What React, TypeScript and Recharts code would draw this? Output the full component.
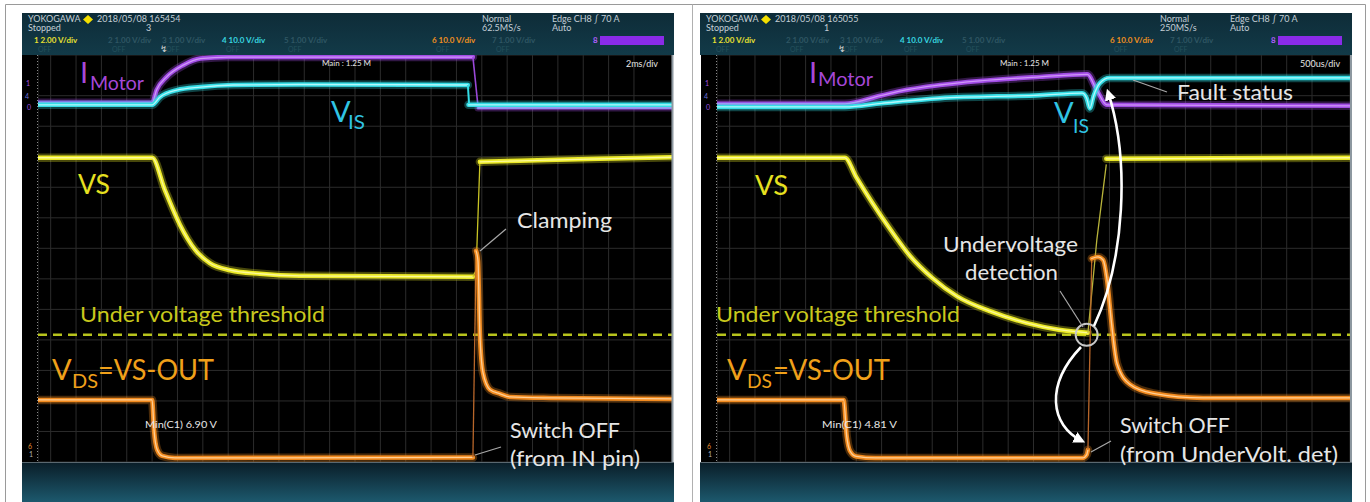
import React from "react";
import { LineChart, Line, XAxis, YAxis, CartesianGrid, ReferenceLine, ReferenceDot } from "recharts";

type Pt = { t: number; v: number };

const FONT = "Lato, 'Open Sans', sans-serif";
const PLOT_TOP = 55;
const PLOT_H = 407;
const THRESHOLD = 2.5; // under voltage threshold, in divisions

// graticule: 10 x 8 divisions, 5 minor steps each
const gridT = Array.from({ length: 51 }, (_, i) => +(i * 0.2).toFixed(1));
const gridV = Array.from({ length: 41 }, (_, i) => +(i * 0.2).toFixed(1));

// ---- left capture (2ms/div): switch off from IN pin
const motorOnL: Pt[] = [
  { t: 0, v: 7.06 }, { t: 1.8, v: 7.06 }, { t: 1.87, v: 7.31 }, { t: 2.03, v: 7.57 },
  { t: 2.29, v: 7.8 }, { t: 2.56, v: 7.93 }, { t: 3.0, v: 7.96 }, { t: 6.86, v: 7.96 },
];
const motorEdgeL: Pt[] = [{ t: 6.86, v: 7.96 }, { t: 6.94, v: 6.99 }];
const motorOffL: Pt[] = [{ t: 6.94, v: 6.96 }, { t: 10, v: 6.96 }];

const visOnL: Pt[] = [
  { t: 0, v: 7.02 }, { t: 1.8, v: 7.02 }, { t: 1.92, v: 7.17 }, { t: 2.19, v: 7.31 },
  { t: 2.56, v: 7.37 }, { t: 3.08, v: 7.41 }, { t: 4.13, v: 7.42 }, { t: 6.78, v: 7.41 },
];
const visEdgeL: Pt[] = [{ t: 6.78, v: 7.41 }, { t: 6.8, v: 7.02 }];
const visOffL: Pt[] = [{ t: 6.79, v: 7.02 }, { t: 10, v: 7.02 }];

const vsOnL: Pt[] = [
  { t: 0, v: 5.98 }, { t: 1.8, v: 5.98 }, { t: 2.0, v: 5.35 }, { t: 2.24, v: 4.66 },
  { t: 2.48, v: 4.17 }, { t: 2.71, v: 3.91 }, { t: 3.03, v: 3.77 }, { t: 3.5, v: 3.7 },
  { t: 4.13, v: 3.66 }, { t: 6.86, v: 3.64 },
];
const vsEdgeL: Pt[] = [{ t: 6.86, v: 3.64 }, { t: 6.91, v: 3.77 }, { t: 6.97, v: 5.9 }];
const vsOffL: Pt[] = [{ t: 6.97, v: 5.9 }, { t: 7.6, v: 5.92 }, { t: 8.86, v: 5.96 }, { t: 10, v: 5.99 }];

const vdsOnL: Pt[] = [
  { t: 0, v: 1.22 }, { t: 1.8, v: 1.22 }, { t: 1.83, v: 0.63 }, { t: 1.88, v: 0.24 },
  { t: 1.96, v: 0.12 }, { t: 2.16, v: 0.08 }, { t: 6.86, v: 0.09 },
];
const vdsEdgeL: Pt[] = [{ t: 6.86, v: 0.09 }, { t: 6.91, v: 4.15 }];
const vdsOffL: Pt[] = [
  { t: 6.91, v: 4.15 }, { t: 6.94, v: 3.95 }, { t: 6.97, v: 2.52 }, { t: 7.02, v: 1.75 },
  { t: 7.13, v: 1.42 }, { t: 7.29, v: 1.34 }, { t: 7.44, v: 1.28 }, { t: 8.08, v: 1.26 },
  { t: 10, v: 1.24 },
];

// ---- right capture (500us/div): switch off from under voltage detection
const motorR: Pt[] = [
  { t: 0, v: 7.04 }, { t: 2.02, v: 7.04 }, { t: 2.58, v: 7.2 }, { t: 2.89, v: 7.29 },
  { t: 3.52, v: 7.41 }, { t: 4.15, v: 7.49 }, { t: 5.1, v: 7.57 }, { t: 5.85, v: 7.62 },
  { t: 6.0, v: 7.31 }, { t: 6.16, v: 7.02 }, { t: 10, v: 7.0 },
];
const visR: Pt[] = [
  { t: 0, v: 6.98 }, { t: 2.02, v: 6.98 }, { t: 2.6, v: 7.05 }, { t: 3.52, v: 7.15 },
  { t: 5.1, v: 7.21 }, { t: 5.77, v: 7.25 }, { t: 5.84, v: 7.15 }, { t: 5.89, v: 6.95 },
  { t: 5.95, v: 7.2 }, { t: 6.05, v: 7.45 }, { t: 6.2, v: 7.55 }, { t: 10, v: 7.55 },
];
const vsOnR: Pt[] = [
  { t: 0, v: 5.98 }, { t: 2.02, v: 5.98 }, { t: 2.2, v: 5.6 }, { t: 2.45, v: 5.1 },
  { t: 2.75, v: 4.55 }, { t: 3.05, v: 4.05 }, { t: 3.4, v: 3.62 }, { t: 3.8, v: 3.25 },
  { t: 4.3, v: 2.97 }, { t: 4.9, v: 2.73 }, { t: 5.4, v: 2.6 }, { t: 5.86, v: 2.54 },
];
const vsEdgeR: Pt[] = [{ t: 5.86, v: 2.54 }, { t: 6.0, v: 4.36 }, { t: 6.15, v: 5.85 }];
const vsOffR: Pt[] = [{ t: 6.15, v: 5.96 }, { t: 10, v: 5.98 }];

const vdsOnR: Pt[] = [
  { t: 0, v: 1.22 }, { t: 2.0, v: 1.22 }, { t: 2.05, v: 0.5 }, { t: 2.1, v: 0.22 },
  { t: 2.2, v: 0.11 }, { t: 2.5, v: 0.08 }, { t: 5.78, v: 0.08 }, { t: 5.84, v: 0.14 },
  { t: 5.86, v: 0.24 },
];
const vdsEdgeR: Pt[] = [{ t: 5.86, v: 0.24 }, { t: 5.92, v: 4.0 }];
const vdsOffR: Pt[] = [
  { t: 5.92, v: 4.0 }, { t: 6.02, v: 4.03 }, { t: 6.1, v: 3.97 }, { t: 6.16, v: 3.6 },
  { t: 6.24, v: 2.64 }, { t: 6.32, v: 1.93 }, { t: 6.52, v: 1.53 }, { t: 6.89, v: 1.35 },
  { t: 7.68, v: 1.26 }, { t: 10, v: 1.26 },
];
const detectPoint = { t: 5.84, v: 2.5 };

// header labels
const channelLabels = [
  { x: 12, text: "1  2.00 V/div", color: "#e8e030" },
  { x: 86, text: "2  1.00 V/div", color: "#2f5663" },
  { x: 140, text: "3  1.00 V/div", color: "#2f5663" },
  { x: 200, text: "4  10.0 V/div", color: "#38d6e0" },
  { x: 262, text: "5  1.00 V/div", color: "#2f5663" },
  { x: 410, text: "6  10.0 V/div", color: "#f0901e" },
  { x: 470, text: "7  1.00 V/div", color: "#2f5663" },
];

const PURPLE = "#a24ce6";
const CYAN = "#33dde6";
const YELLOW = "#ecea26";
const ORANGE = "#f28a1e";

function trace(key: string, data: Pt[], color: string, core: string, width = 4.5) {
  return [
    <Line key={key + "g"} data={data} dataKey="v" type="monotone" stroke={color} strokeOpacity={0.3}
      strokeWidth={width + 4} dot={false} activeDot={false} isAnimationActive={false} strokeLinecap="round" />,
    <Line key={key} data={data} dataKey="v" type="monotone" stroke={color} strokeWidth={width}
      dot={false} activeDot={false} isAnimationActive={false} strokeLinecap="round" />,
    <Line key={key + "c"} data={data} dataKey="v" type="monotone" stroke={core} strokeWidth={1.3}
      dot={false} activeDot={false} isAnimationActive={false} strokeLinecap="round" />,
  ];
}

function edge(key: string, data: Pt[], color: string, width = 1.4) {
  return (
    <Line key={key} data={data} dataKey="v" type="linear" stroke={color} strokeWidth={width}
      dot={false} activeDot={false} isAnimationActive={false} />
  );
}

function Header({ left, date, count, rate }: { left: number; date: string; count: string; rate: string }) {
  const t = { fontFamily: FONT, fontSize: 9, fill: "#c4ced6" };
  return (
    <svg width={652} height={42} style={{ position: "absolute", left, top: 13 }}>
      <defs>
        <linearGradient id={"hd" + left} x1="0" y1="0" x2="0" y2="1">
          <stop offset="0" stopColor="#0e2c38" />
          <stop offset="1" stopColor="#123a48" />
        </linearGradient>
      </defs>
      <rect width={652} height={42} fill={`url(#hd${left})`} />
      <text x={6} y={9} {...t}>YOKOGAWA</text>
      <path d="M66 2 L71 6.5 L66 11 L61 6.5 Z" fill="#f5e000" />
      <text x={75} y={9} {...t}>{date}</text>
      <text x={6} y={18} {...t}>Stopped</text>
      <text x={124} y={18} {...t}>{count}</text>
      <text x={460} y={9} {...t}>Normal</text>
      <text x={460} y={18} {...t}>{rate}</text>
      <text x={530} y={9} {...t}>Edge CH8 ∫ 70 A</text>
      <text x={530} y={18} {...t}>Auto</text>
      {channelLabels.map((c) => (
        <text key={c.x} x={c.x} y={30} fontFamily={FONT} fontSize={8} fontWeight={700} fill={c.color}>{c.text}</text>
      ))}
      <text x={571} y={30} fontFamily={FONT} fontSize={8} fontWeight={700} fill="#b060ff">8</text>
      <rect x={578} y={23} width={64} height={9} fill="#8a2be8" />
      {channelLabels.map((c) => (
        <text key={"o" + c.x} x={c.x + 4} y={39} fontFamily={FONT} fontSize={7} fill="#24505c">OFF</text>
      ))}
      <text x={138} y={39} fontFamily={FONT} fontSize={9} fill="#d8d8d8">↯</text>
    </svg>
  );
}

function Scope({ left, width, children }: { left: number; width: number; children: React.ReactNode }) {
  return (
    <div style={{ position: "absolute", left, top: PLOT_TOP, width, height: PLOT_H, background: "#000" }}>
      <LineChart width={width} height={PLOT_H} margin={{ top: 0, right: 0, bottom: 0, left: 0 }}>
        <CartesianGrid stroke="#2c2c2c" />
        <XAxis dataKey="t" type="number" domain={[0, 10]} ticks={gridT} hide allowDataOverflow />
        <YAxis type="number" domain={[0, 8]} ticks={gridV} hide allowDataOverflow />
        <ReferenceLine y={THRESHOLD} stroke="#b8c41c" strokeWidth={2.5} strokeDasharray="9 6" />
        {children}
      </LineChart>
    </div>
  );
}

function Footer({ left }: { left: number }) {
  return (
    <div style={{
      position: "absolute", left, top: 462, width: 652, height: 40,
      background: "linear-gradient(#0a1e29, #1d5a6f)", borderTop: "1px solid #5a6870",
    }} />
  );
}

function Strip({ left }: { left: number }) {
  const s = { fontFamily: FONT, fontSize: 7 };
  return (
    <svg width={16} height={PLOT_H} style={{ position: "absolute", left, top: PLOT_TOP, background: "#000" }}>
      <text x={4} y={31} {...s} fill="#a050e0">1</text>
      <text x={3} y={44} {...s} fill="#6a70d8">4</text>
      <text x={5} y={55} {...s} fill="#a050e0">0</text>
      <text x={6} y={394} {...s} fill="#e08a30">6</text>
      <text x={7} y={402} {...s} fill="#b0b0b0">1</text>
      <line x1={15.5} y1={0} x2={15.5} y2={PLOT_H} stroke="#8a8a8a" strokeDasharray="1 2" />
    </svg>
  );
}

function Label({ x, y, size, color, text, len }: { x: number; y: number; size: number; color: string; text: string; len?: number }) {
  return (
    <text x={x} y={y} fontFamily={FONT} fontSize={size} fill={color}
      textLength={len} lengthAdjust={len ? "spacingAndGlyphs" : undefined}>{text}</text>
  );
}

export default function App() {
  const P = "#a648d8";
  const C = "#30c4e4";
  const Y = "#e6e020";
  const O = "#f0a01a";
  const W = "#e6e6e6";
  const G = "#c8c81c";
  return (
    <div style={{ position: "absolute", left: 0, top: 0, width: 1370, height: 502, background: "#fff", overflow: "hidden" }}>
      <Header left={22} date="2018/05/08 165454" count="3" rate="62.5MS/s" />
      <Header left={700} date="2018/05/08 165055" count="1" rate="250MS/s" />
      <Strip left={22} />
      <Strip left={701} />

      <Scope left={38} width={634}>
        {trace("pa", motorOnL, PURPLE, "#cf97f7")}
        {edge("pe", motorEdgeL, "#9a48d8", 1.6)}
        {trace("pb", motorOffL, PURPLE, "#cf97f7", 3)}
        {trace("ca", visOnL, CYAN, "#b4f8fa")}
        {edge("ce", visEdgeL, CYAN, 2)}
        {trace("cb", visOffL, CYAN, "#b4f8fa")}
        {trace("ya", vsOnL, YELLOW, "#fbf99a")}
        {edge("ye", vsEdgeL, "#c9c424", 1.3)}
        {trace("yb", vsOffL, YELLOW, "#fbf99a")}
        {trace("oa", vdsOnL, ORANGE, "#ffcf95")}
        {edge("oe", vdsEdgeL, "#b8662a", 1.3)}
        {trace("ob", vdsOffL, ORANGE, "#ffcf95")}
      </Scope>

      <Scope left={717} width={633}>
        {trace("pr", motorR, PURPLE, "#cf97f7")}
        {trace("cr", visR, CYAN, "#b4f8fa")}
        {trace("ya", vsOnR, YELLOW, "#fbf99a")}
        {edge("ye", vsEdgeR, "#b8b43a", 1.3)}
        {trace("yb", vsOffR, YELLOW, "#fbf99a")}
        {trace("oa", vdsOnR, ORANGE, "#ffcf95")}
        {edge("oe", vdsEdgeR, "#b8662a", 1.3)}
        {trace("ob", vdsOffR, ORANGE, "#ffcf95")}
        <ReferenceDot x={detectPoint.t} y={detectPoint.v} r={11} fill="none" stroke="#c8c8c8" strokeWidth={2} />
      </Scope>

      <Footer left={22} />
      <Footer left={700} />

      <svg width={1370} height={502} style={{ position: "absolute", left: 0, top: 0, pointerEvents: "none" }}>
        <defs>
          <marker id="ah" viewBox="0 0 10 10" refX="7" refY="5" markerWidth="4.5" markerHeight="4.5" orient="auto">
            <path d="M0,0 L10,5 L0,10 z" fill="#fff" />
          </marker>
        </defs>
        {/* frame */}
        <path d="M5.5 502 V4.5 H1365.5 V502" fill="none" stroke="#9a9a9a" />
        <line x1={692.5} y1={4.5} x2={692.5} y2={502} stroke="#b0b0b0" />
        <line x1={672.5} y1={55} x2={672.5} y2={462} stroke="#8d98a0" strokeWidth={2} />
        <line x1={1351} y1={55} x2={1351} y2={462} stroke="#8d98a0" strokeWidth={2} />

        {/* left capture */}
        <Label x={322} y={66} size={8} color={W} text="Main : 1.25 M" />
        <Label x={626} y={67} size={9} color={W} text="2ms/div" />
        <Label x={80} y={83} size={29} color={P} text="I" />
        <Label x={90} y={90} size={19} color={P} text="Motor" len={54} />
        <Label x={331} y={122} size={29} color={C} text="V" />
        <Label x={348} y={129} size={19} color={C} text="IS" len={17} />
        <Label x={78} y={194} size={27} color={Y} text="VS" len={32} />
        <Label x={517} y={228} size={21} color={W} text="Clamping" len={95} />
        <line x1={480} y1={251} x2={506} y2={229} stroke="#a8a8a8" strokeWidth={1.2} />
        <Label x={80} y={322} size={22} color={G} text="Under voltage threshold" len={245} />
        <Label x={52} y={380} size={29} color={O} text="V" />
        <Label x={72} y={388} size={19} color={O} text="DS" len={26} />
        <Label x={98} y={380} size={29} color={O} text="=VS-OUT" len={116} />
        <Label x={145} y={428} size={9} color={W} text="Min(C1)   6.90 V" len={72} />
        <Label x={510} y={438} size={21} color={W} text="Switch OFF" len={110} />
        <Label x={510} y={466} size={21} color={W} text="(from IN pin)" len={130} />
        <line x1={475} y1={455} x2={501} y2={447} stroke="#a8a8a8" strokeWidth={1.2} />

        {/* right capture */}
        <Label x={1000} y={66} size={8} color={W} text="Main : 1.25 M" />
        <Label x={1300} y={67} size={9} color={W} text="500us/div" />
        <Label x={809} y={83} size={29} color={P} text="I" />
        <Label x={818} y={86} size={19} color={P} text="Motor" len={55} />
        <Label x={1054} y={123} size={29} color={C} text="V" />
        <Label x={1073} y={133} size={19} color={C} text="IS" len={16} />
        <Label x={1177} y={100} size={21} color={W} text="Fault status" len={116} />
        <line x1={1133} y1={80} x2={1167} y2={92} stroke="#a8a8a8" strokeWidth={1.2} />
        <Label x={755} y={195} size={27} color={Y} text="VS" len={33} />
        <Label x={943} y={252} size={21} color={W} text="Undervoltage" len={135} />
        <Label x={965} y={280} size={21} color={W} text="detection" len={93} />
        <line x1={1060} y1={291} x2={1083} y2={327} stroke="#a8a8a8" strokeWidth={1.2} />
        <Label x={716} y={322} size={22} color={G} text="Under voltage threshold" len={244} />
        <Label x={727} y={380} size={29} color={O} text="V" />
        <Label x={747} y={388} size={19} color={O} text="DS" len={25} />
        <Label x={773} y={380} size={29} color={O} text="=VS-OUT" len={117} />
        <Label x={822} y={428} size={9} color={W} text="Min(C1)   4.81 V" len={75} />
        <Label x={1120} y={433} size={21} color={W} text="Switch OFF" len={110} />
        <Label x={1120} y={462} size={21} color={W} text="(from UnderVolt. det)" len={218} />
        <line x1={1091} y1={452} x2={1111} y2={441} stroke="#a8a8a8" strokeWidth={1.2} />
        <path d="M1094 326 C1125 260 1130 160 1108 92" fill="none" stroke="#fff" strokeWidth={2.6} markerEnd="url(#ah)" />
        <path d="M1081 347 C1045 385 1050 425 1082 441" fill="none" stroke="#fff" strokeWidth={2.6} markerEnd="url(#ah)" />
      </svg>
    </div>
  );
}
